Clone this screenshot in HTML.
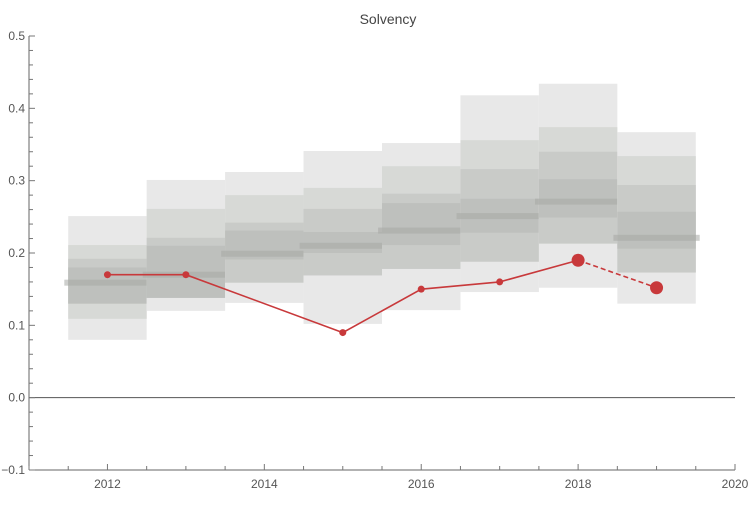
<!DOCTYPE html>
<html><head><meta charset="utf-8"><style>
body{margin:0;background:#fff}
svg text{font-family:"Liberation Sans",sans-serif;fill:#555;font-size:12px}
</style></head><body>
<svg id="chart" width="750" height="500" xmlns="http://www.w3.org/2000/svg">
<text x="388" y="24" text-anchor="middle" style="font-size:14px;fill:#444">Solvency</text>
<g id="bands"></g>
<g id="axes"></g>
<g id="series"></g>
</svg>
<script>
const years=[2012,2013,2014,2015,2016,2017,2018,2019];
const hi1=[.251,.301,.312,.341,.352,.418,.434,.367];
const hi2=[.211,.261,.280,.290,.320,.356,.374,.334];
const hi3=[.192,.221,.242,.261,.282,.316,.340,.294];
const hi4=[.180,.210,.231,.229,.269,.275,.302,.257];
const medians=[.159,.170,.199,.210,.231,.251,.271,.221];
const lo4=[.130,.138,.191,.200,.211,.228,.249,.206];
const lo3=[.130,.138,.159,.169,.178,.188,.213,.173];
const lo2=[.109,.138,.159,.169,.178,.188,.213,.173];
const lo1=[.080,.120,.131,.102,.121,.146,.152,.130];
const actualYears=[2012,2013,2015,2016,2017,2018];
const actualValues=[.170,.170,.090,.150,.160,.190];
const forecastYears=[2018,2019];
const forecastValues=[.190,.152];
const yTicks=[-0.1,0.0,0.1,0.2,0.3,0.4,0.5];
const yTickLabels=["\u22120.1","0.0","0.1","0.2","0.3","0.4","0.5"];
const xTicks=[2012,2014,2016,2018,2020];

const X0=29,X1=735,Y0=470,Y1=36;
const xs=v=>X0+(v-2011)/(2020-2011)*(X1-X0);
const ys=v=>Y0-(v+0.1)/0.6*(Y0-Y1);
const NS="http://www.w3.org/2000/svg";
function mk(tag,attrs,parent){const e=document.createElementNS(NS,tag);for(const k in attrs)e.setAttribute(k,attrs[k]);parent.appendChild(e);return e;}
const bandsG=document.getElementById('bands'),axesG=document.getElementById('axes'),serG=document.getElementById('series');
const levels=[[hi1,lo1,'#e8e8e8'],[hi2,lo2,'#d7d9d6'],[hi3,lo3,'#c9cbc8'],[hi4,lo4,'#bec0bd']];
years.forEach((yr,i)=>{
  levels.forEach((L,j)=>{
    const r=mk('rect',{x:xs(yr-0.5),y:ys(L[0][i]),width:xs(yr+0.5)-xs(yr-0.5),height:ys(L[1][i])-ys(L[0][i]),fill:L[2]},bandsG);
    
    
  });
  const m=mk('rect',{x:xs(yr-0.55),y:ys(medians[i])-3,width:xs(yr+0.55)-xs(yr-0.55),height:6,fill:'rgba(165,167,164,0.55)'},bandsG);
  
  
});
// axes
mk('line',{x1:X0,y1:Y1,x2:X0,y2:Y0,stroke:'#666'},axesG);
mk('line',{x1:X0,y1:Y0,x2:X1,y2:Y0,stroke:'#666'},axesG);
const zl=mk('line',{x1:X0,y1:ys(0),x2:X1,y2:ys(0),stroke:'#555'},axesG);


for(let k=0;k<=30;k++){const v=-0.1+k*0.02;const y=ys(v);const maj=k%5===0;mk('line',{x1:X0,y1:y,x2:X0+(maj?6:4),y2:y,stroke:'#777'},axesG);}
yTicks.forEach((v,i)=>{const t=mk('text',{x:X0-4,y:ys(v)+4,'text-anchor':'end'},axesG);t.textContent=yTickLabels[i];

});
for(let k=0;k<=18;k++){const v=2011+k*0.5;const x=xs(v);const maj=(k%4===2);mk('line',{x1:x,y1:Y0,x2:x,y2:Y0-(maj?6:4),stroke:'#777'},axesG);}
xTicks.forEach(v=>{const t=mk('text',{x:xs(v),y:Y0+18,'text-anchor':'middle'},axesG);t.textContent=v;

});
// series
const pl=mk('polyline',{points:actualYears.map((y,i)=>xs(y)+','+ys(actualValues[i])).join(' '),fill:'none',stroke:'#c8393b','stroke-width':1.6},serG);


const fl=mk('polyline',{points:forecastYears.map((y,i)=>xs(y)+','+ys(forecastValues[i])).join(' '),fill:'none',stroke:'#c8393b','stroke-width':1.6,'stroke-dasharray':'5,3'},serG);


actualYears.forEach((y,i)=>{const big=y===2018;const c=mk('circle',{cx:xs(y),cy:ys(actualValues[i]),r:big?6.5:3.5,fill:'#c8393b'},serG);

});
const fc=mk('circle',{cx:xs(forecastYears[1]),cy:ys(forecastValues[1]),r:6.5,fill:'#c8393b'},serG);


</script>
</body></html>
